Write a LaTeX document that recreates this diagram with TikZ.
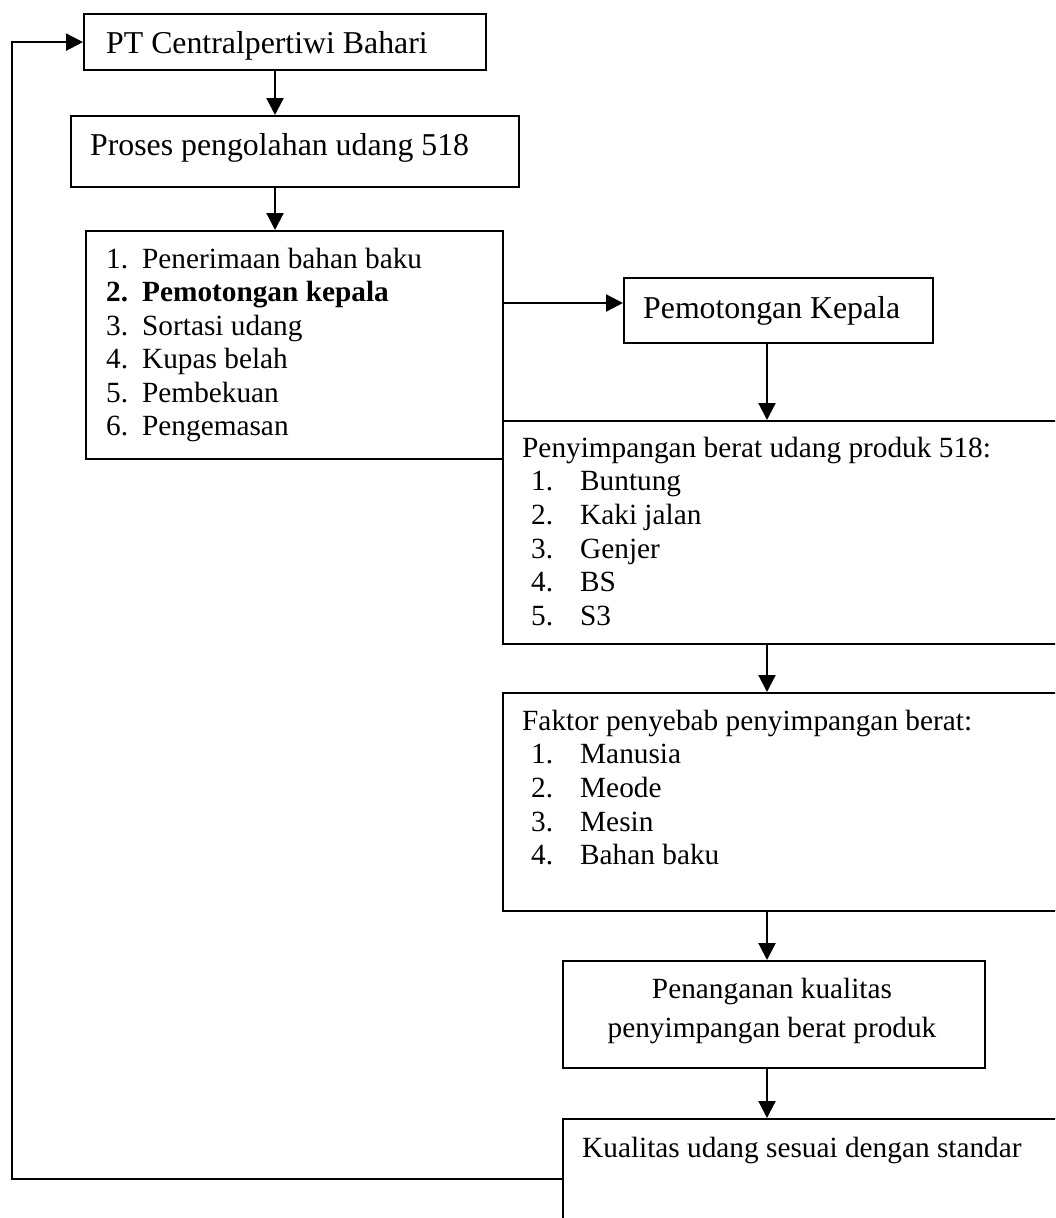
\documentclass[tikz,border=0pt]{standalone}
\usepackage{fontspec}
\setmainfont{Liberation Serif}
\usetikzlibrary{arrows.meta}
\begin{document}
\begin{tikzpicture}[x=1pt,y=-1pt,
  box/.style={draw, line width=2.2pt, inner sep=0pt, anchor=north west},
  txt/.style={anchor=base west, inner sep=0pt, font=\fontsize{29.3}{33.7}\selectfont},
  bigtxt/.style={anchor=base west, inner sep=0pt, font=\fontsize{31.8}{36}\selectfont},
  ctxt/.style={anchor=base, inner sep=0pt, font=\fontsize{29.3}{33.7}\selectfont},
  arr/.style={-{Triangle[length=17pt,width=17pt]}, line width=2.2pt}]
\useasboundingbox (0,0) rectangle (1055,1218);
\clip (0,0) rectangle (1055,1218);
% boxes
\node[box, minimum width=402pt, minimum height=56pt] (pt) at (83,13) {};
\node[box, minimum width=448pt, minimum height=71pt] (proc) at (70,115) {};
\node[box, minimum width=417pt, minimum height=228pt] (list) at (85,230) {};
\node[box, minimum width=309pt, minimum height=65pt] (pk) at (623,277) {};
\node[box, minimum width=573pt, minimum height=223pt] (dev) at (502,420) {};
\node[box, minimum width=573pt, minimum height=218pt] (fak) at (502,692) {};
\node[box, minimum width=422pt, minimum height=107pt] (pen) at (562,960) {};
\node[box, minimum width=513pt, minimum height=140pt] (kual) at (562,1118) {};
% helper coordinates
\coordinate (ax) at (275,0);
\coordinate (bx) at (767,0);
\coordinate (ay) at (0,303);
\coordinate (fy) at (0,1179);
\coordinate (lx) at (12,0);
% connectors
\draw[arr] (pt.south -| ax) -- (proc.north -| ax);
\draw[arr] (proc.south -| ax) -- (list.north -| ax);
\draw[arr] (list.east |- ay) -- (pk.west |- ay);
\draw[arr] (pk.south -| bx) -- (dev.north -| bx);
\draw[arr] (dev.south -| bx) -- (fak.north -| bx);
\draw[arr] (fak.south -| bx) -- (pen.north -| bx);
\draw[arr] (pen.south -| bx) -- (kual.north -| bx);
\draw[arr] (kual.west |- fy) -- (lx |- fy) -- (lx |- pt.west) -- (pt.west);
% texts
\node[bigtxt] (tpt) at (106,53) {PT Centralpertiwi Bahari};
\node[bigtxt] (tproc) at (90,155) {Proses pengolahan udang 518};
\node[txt] (l1) at (106,268) {\makebox[36pt][l]{1.}Penerimaan bahan baku};
\node[txt] (l2) at (106,301.5) {\bfseries\makebox[36pt][l]{2.}Pemotongan kepala};
\node[txt] (l3) at (106,335) {\makebox[36pt][l]{3.}Sortasi udang};
\node[txt] (l4) at (106,368.5) {\makebox[36pt][l]{4.}Kupas belah};
\node[txt] (l5) at (106,402) {\makebox[36pt][l]{5.}Pembekuan};
\node[txt] (l6) at (106,435.5) {\makebox[36pt][l]{6.}Pengemasan};
\node[bigtxt] (tpk) at (643,318) {Pemotongan Kepala};
\node[txt] (d0) at (522,457) {Penyimpangan berat udang produk 518:};
\node[txt] (d1) at (531,490.7) {\makebox[49pt][l]{1.}Buntung};
\node[txt] (d2) at (531,524.4) {\makebox[49pt][l]{2.}Kaki jalan};
\node[txt] (d3) at (531,558.1) {\makebox[49pt][l]{3.}Genjer};
\node[txt] (d4) at (531,591.8) {\makebox[49pt][l]{4.}BS};
\node[txt] (d5) at (531,625.5) {\makebox[49pt][l]{5.}S3};
\node[txt] (f0) at (522,730) {Faktor penyebab penyimpangan berat:};
\node[txt] (f1) at (531,763.7) {\makebox[49pt][l]{1.}Manusia};
\node[txt] (f2) at (531,797.4) {\makebox[49pt][l]{2.}Meode};
\node[txt] (f3) at (531,831.1) {\makebox[49pt][l]{3.}Mesin};
\node[txt] (f4) at (531,864.8) {\makebox[49pt][l]{4.}Bahan baku};
\node[ctxt] (p1) at (772,998) {Penanganan kualitas};
\node[ctxt] (p2) at (772,1037) {penyimpangan berat produk};
\node[txt] (k1) at (582,1157) {Kualitas udang sesuai dengan standar};
\end{tikzpicture}
\end{document}
